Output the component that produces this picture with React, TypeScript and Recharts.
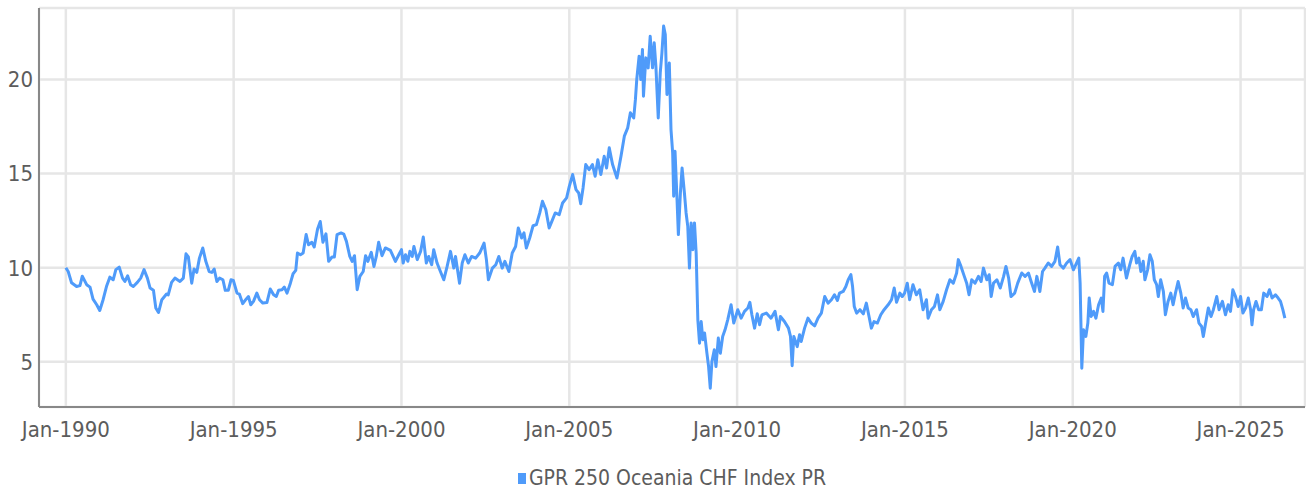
import { CartesianGrid, Legend, Line, LineChart, XAxis, YAxis } from "recharts";

// [decimal year, index level]
const seg1990s: [number, number][] = [
  [1990.0, 10.0], [1990.07, 9.8], [1990.17, 9.2], [1990.32, 9.0], [1990.42, 9.05], [1990.49, 9.55],
  [1990.62, 9.1], [1990.72, 8.97], [1990.81, 8.33], [1990.92, 8.03], [1991.01, 7.73], [1991.11, 8.3],
  [1991.21, 9.0], [1991.31, 9.5], [1991.41, 9.36], [1991.49, 9.9], [1991.59, 10.03], [1991.69, 9.45],
  [1991.76, 9.27], [1991.84, 9.57], [1991.93, 9.1], [1992.01, 9.0], [1992.13, 9.22], [1992.23, 9.45],
  [1992.33, 9.9], [1992.43, 9.45], [1992.51, 8.92], [1992.61, 8.8], [1992.68, 7.86], [1992.76, 7.62],
  [1992.86, 8.3], [1993.0, 8.6], [1993.05, 8.56], [1993.15, 9.22], [1993.25, 9.45], [1993.4, 9.27],
  [1993.5, 9.45], [1993.58, 10.74], [1993.65, 10.57], [1993.75, 9.18], [1993.82, 9.93], [1993.9, 9.75],
  [1993.98, 10.51], [1994.08, 11.05], [1994.17, 10.34], [1994.27, 9.8], [1994.35, 9.75], [1994.42, 9.93],
  [1994.5, 9.27], [1994.58, 9.45], [1994.68, 9.36], [1994.75, 8.8], [1994.84, 8.8], [1994.92, 9.36],
  [1994.99, 9.33], [1995.1, 8.65], [1995.17, 8.6], [1995.27, 8.09], [1995.37, 8.33], [1995.44, 8.47],
  [1995.51, 8.03], [1995.59, 8.21], [1995.69, 8.65], [1995.77, 8.3], [1995.87, 8.12], [1995.99, 8.15],
  [1996.09, 8.87], [1996.19, 8.56], [1996.27, 8.47], [1996.34, 8.8], [1996.44, 8.83], [1996.51, 8.97],
  [1996.59, 8.65], [1996.69, 9.18], [1996.77, 9.68], [1996.85, 9.86], [1996.9, 10.78], [1996.99, 10.69],
  [1997.07, 10.78], [1997.16, 11.76], [1997.23, 11.22], [1997.33, 11.35], [1997.4, 11.1], [1997.5, 12.06],
  [1997.58, 12.46], [1997.66, 11.35], [1997.75, 11.8], [1997.83, 10.34], [1997.93, 10.57], [1998.0, 10.57],
  [1998.08, 11.76], [1998.2, 11.85], [1998.28, 11.79], [1998.36, 11.4], [1998.46, 10.6], [1998.53, 10.34],
  [1998.6, 10.64], [1998.68, 8.83], [1998.76, 9.54], [1998.86, 9.8], [1998.93, 10.64], [1999.0, 10.34],
  [1999.1, 10.82], [1999.18, 10.07], [1999.25, 10.6], [1999.32, 11.35], [1999.42, 10.64], [1999.52, 11.05],
  [1999.67, 10.92], [1999.82, 10.34], [1999.92, 10.69],
];

const seg2000s: [number, number][] = [
  [2000.0, 10.96], [2000.05, 10.25], [2000.12, 10.69], [2000.19, 10.34], [2000.25, 10.87], [2000.32, 10.6],
  [2000.37, 11.13], [2000.47, 10.43], [2000.57, 10.87], [2000.65, 11.63], [2000.74, 10.25], [2000.81, 10.6],
  [2000.9, 10.16], [2000.96, 10.96], [2001.06, 10.25], [2001.16, 9.8], [2001.26, 9.36], [2001.36, 10.07],
  [2001.46, 10.87], [2001.56, 9.98], [2001.61, 10.6], [2001.73, 9.18], [2001.81, 10.25], [2001.89, 10.69],
  [2001.99, 10.25], [2002.09, 10.6], [2002.21, 10.51], [2002.33, 10.78], [2002.46, 11.31], [2002.53, 10.43],
  [2002.59, 9.36], [2002.71, 9.98], [2002.81, 10.16], [2002.9, 10.6], [2003.0, 9.98], [2003.08, 10.34],
  [2003.2, 9.8], [2003.3, 10.78], [2003.4, 11.13], [2003.48, 12.11], [2003.58, 11.58], [2003.65, 11.85],
  [2003.72, 11.05], [2003.82, 11.58], [2003.92, 12.23], [2004.02, 12.29], [2004.12, 12.91], [2004.2, 13.53],
  [2004.3, 13.09], [2004.4, 12.11], [2004.48, 12.46], [2004.58, 12.91], [2004.7, 12.82], [2004.8, 13.44],
  [2004.92, 13.71], [2005.0, 14.32], [2005.1, 14.95], [2005.2, 14.15], [2005.28, 13.97], [2005.34, 13.4],
  [2005.41, 14.24], [2005.49, 15.48], [2005.59, 15.21], [2005.69, 15.48], [2005.77, 14.86], [2005.85, 15.74],
  [2005.94, 14.95], [2006.04, 15.92], [2006.11, 15.3], [2006.19, 16.37], [2006.29, 15.48], [2006.42, 14.77],
  [2006.54, 15.92], [2006.64, 16.99], [2006.74, 17.43], [2006.82, 18.23], [2006.92, 17.96], [2006.97, 18.94],
  [2007.01, 20.0], [2007.08, 21.24], [2007.13, 20.0], [2007.18, 21.6], [2007.21, 19.11], [2007.28, 21.15],
  [2007.35, 20.62], [2007.41, 22.3], [2007.48, 20.62], [2007.53, 21.95], [2007.58, 20.71], [2007.65, 17.96],
  [2007.71, 20.35], [2007.76, 21.42], [2007.81, 22.84], [2007.86, 22.39], [2007.91, 19.2], [2007.98, 20.88],
  [2008.03, 17.34], [2008.08, 16.1], [2008.11, 13.8], [2008.15, 16.19], [2008.21, 13.62], [2008.25, 11.76],
  [2008.31, 13.97], [2008.36, 15.3], [2008.43, 13.97], [2008.48, 12.91], [2008.53, 12.2], [2008.58, 9.98],
  [2008.63, 12.38], [2008.68, 10.96], [2008.73, 12.38], [2008.78, 10.78], [2008.83, 7.23], [2008.88, 5.99],
  [2008.93, 7.14], [2008.98, 6.17], [2009.03, 6.53], [2009.1, 5.46], [2009.15, 4.75], [2009.2, 3.6],
  [2009.25, 5.02], [2009.32, 5.64], [2009.37, 4.75], [2009.44, 6.26], [2009.5, 5.46], [2009.57, 6.35],
  [2009.64, 6.7], [2009.72, 7.23], [2009.82, 8.03], [2009.9, 7.06],
];

const seg2010s: [number, number][] = [
  [2010.02, 7.77], [2010.12, 7.32], [2010.22, 7.68], [2010.32, 7.86], [2010.38, 8.16], [2010.44, 7.5],
  [2010.52, 6.79], [2010.6, 7.55], [2010.67, 6.97], [2010.74, 7.5], [2010.87, 7.59], [2011.01, 7.32],
  [2011.13, 7.68], [2011.23, 6.7], [2011.29, 7.41], [2011.41, 7.14], [2011.53, 6.79], [2011.59, 6.35],
  [2011.64, 4.79], [2011.69, 6.35], [2011.79, 5.81], [2011.86, 6.44], [2011.91, 6.08], [2012.01, 6.79],
  [2012.11, 7.32], [2012.21, 7.06], [2012.31, 6.91], [2012.41, 7.32], [2012.51, 7.59], [2012.61, 8.47],
  [2012.71, 8.12], [2012.81, 8.3], [2012.9, 8.56], [2012.99, 8.26], [2013.05, 8.65], [2013.16, 8.74],
  [2013.24, 9.0], [2013.31, 9.36], [2013.39, 9.63], [2013.44, 9.0], [2013.49, 7.94], [2013.56, 7.59],
  [2013.66, 7.77], [2013.76, 7.55], [2013.85, 8.12], [2013.92, 7.5], [2014.0, 6.79], [2014.08, 7.14],
  [2014.18, 7.06], [2014.28, 7.5], [2014.38, 7.77], [2014.5, 8.03], [2014.6, 8.3], [2014.68, 8.92],
  [2014.75, 8.16], [2014.85, 8.65], [2014.92, 8.47], [2014.99, 8.65], [2015.07, 9.18], [2015.14, 8.3],
  [2015.24, 9.1], [2015.34, 8.56], [2015.44, 8.83], [2015.54, 7.77], [2015.64, 8.3], [2015.69, 7.32],
  [2015.79, 7.77], [2015.88, 7.94], [2015.97, 8.56], [2016.04, 7.77], [2016.14, 8.21], [2016.24, 8.83],
  [2016.34, 9.36], [2016.44, 9.18], [2016.54, 9.72], [2016.59, 10.43], [2016.67, 10.07], [2016.77, 9.54],
  [2016.84, 9.18], [2016.91, 8.56], [2016.99, 9.36], [2017.09, 9.18], [2017.19, 9.54], [2017.27, 9.27],
  [2017.34, 9.98], [2017.44, 9.36], [2017.51, 9.63], [2017.57, 8.47], [2017.64, 9.18], [2017.74, 9.36],
  [2017.84, 8.92], [2017.94, 9.54], [2018.01, 10.07], [2018.09, 9.45], [2018.16, 8.47], [2018.27, 8.65],
  [2018.36, 9.18], [2018.48, 9.72], [2018.58, 9.54], [2018.68, 9.72], [2018.76, 9.27], [2018.86, 8.74],
  [2018.93, 9.54], [2019.02, 8.74], [2019.1, 9.8], [2019.17, 9.98], [2019.27, 10.25], [2019.37, 10.07],
  [2019.47, 10.34], [2019.55, 11.1], [2019.62, 10.16], [2019.72, 9.98], [2019.82, 10.25], [2019.92, 10.43],
];

const seg2020s: [number, number][] = [
  [2020.02, 9.89], [2020.18, 10.51], [2020.22, 9.18], [2020.27, 4.66], [2020.32, 6.7], [2020.39, 6.35],
  [2020.45, 7.06], [2020.49, 8.39], [2020.55, 7.41], [2020.62, 7.68], [2020.69, 7.32], [2020.77, 8.03],
  [2020.85, 8.39], [2020.9, 7.68], [2020.95, 9.54], [2021.01, 9.72], [2021.08, 9.18], [2021.18, 9.1],
  [2021.26, 10.07], [2021.36, 10.25], [2021.43, 9.89], [2021.5, 10.51], [2021.6, 9.45], [2021.7, 10.16],
  [2021.77, 10.6], [2021.85, 10.87], [2021.9, 10.25], [2021.97, 10.51], [2022.03, 9.8], [2022.1, 10.34],
  [2022.15, 9.36], [2022.23, 9.89], [2022.3, 10.69], [2022.37, 10.34], [2022.43, 9.36], [2022.5, 9.1],
  [2022.55, 8.47], [2022.62, 9.36], [2022.7, 8.74], [2022.76, 7.5], [2022.84, 8.21], [2022.92, 8.65],
  [2022.99, 8.03], [2023.06, 8.65], [2023.14, 9.27], [2023.22, 8.65], [2023.29, 7.86], [2023.36, 8.39],
  [2023.44, 7.86], [2023.52, 7.77], [2023.59, 7.41], [2023.69, 7.77], [2023.76, 7.06], [2023.84, 6.88],
  [2023.89, 6.35], [2023.96, 7.06], [2024.04, 7.86], [2024.12, 7.41], [2024.19, 7.77], [2024.29, 8.47],
  [2024.36, 7.77], [2024.46, 8.21], [2024.55, 7.5], [2024.63, 8.03], [2024.7, 7.68], [2024.77, 8.83],
  [2024.85, 8.47], [2024.93, 7.94], [2025.0, 8.47], [2025.07, 7.59], [2025.15, 7.86], [2025.23, 8.39],
  [2025.3, 7.77], [2025.34, 6.97], [2025.39, 7.77], [2025.46, 8.21], [2025.54, 7.77], [2025.62, 7.77],
  [2025.69, 8.65], [2025.79, 8.47], [2025.86, 8.83], [2025.94, 8.39], [2026.04, 8.56], [2026.12, 8.39],
  [2026.19, 8.21], [2026.26, 7.77], [2026.32, 7.32],
];

const xTicks = [1990, 1995, 2000, 2005, 2010, 2015, 2020, 2025];
const yTicks = [5, 10, 15, 20];
const seriesName = "GPR 250 Oceania CHF Index PR";

const data = [...seg1990s, ...seg2000s, ...seg2010s, ...seg2020s].map(([t, v]) => ({ t, v }));

const FONT = "'Liberation Sans Narrow', 'DejaVu Sans Condensed', sans-serif";
const BLUE = "#4f9bfa";
const TEXT = "#5c5c5c";

const LegendBox = () => (
  <div
    style={{
      display: "flex",
      justifyContent: "center",
      alignItems: "center",
      height: 36,
      paddingTop: 6,
      boxSizing: "border-box",
      fontFamily: FONT,
      fontSize: 21,
      color: TEXT,
    }}
  >
    <span style={{ display: "inline-block", width: 8, height: 11, background: BLUE, marginRight: 3 }} />
    {seriesName}
  </div>
);

export default function App() {
  return (
    <div style={{ position: "absolute", left: 0, top: 0 }}>
      <LineChart
        width={1306}
        height={493}
        data={data}
        margin={{ top: 8, right: 1, bottom: 0, left: 0 }}
        style={{ fontFamily: FONT }}
      >
        <CartesianGrid stroke="#e6e6e6" strokeWidth={2.5} />
        <XAxis
          dataKey="t"
          type="number"
          domain={[1989.2, 2026.92]}
          ticks={xTicks}
          tickFormatter={(v) => `Jan-${v}`}
          height={50}
          tickLine={false}
          tickMargin={8}
          stroke="#888"
          strokeWidth={2}
          tick={{ fill: TEXT, fontSize: 22 }}
          allowDataOverflow
        />
        <YAxis
          type="number"
          domain={[2.6, 23.8]}
          ticks={yTicks}
          width={39}
          tickLine={false}
          tickMargin={0}
          stroke="#888"
          strokeWidth={2}
          tick={{ fill: TEXT, fontSize: 22 }}
          allowDataOverflow
        />
        <Legend
          verticalAlign="bottom"
          height={36}
          wrapperStyle={{ left: 39, width: 1266 }}
          content={() => <LegendBox />}
        />
        <Line
          type="linear"
          dataKey="v"
          name={seriesName}
          stroke={BLUE}
          strokeWidth={3}
          dot={false}
          strokeLinejoin="round"
          isAnimationActive={false}
        />
      </LineChart>
    </div>
  );
}
